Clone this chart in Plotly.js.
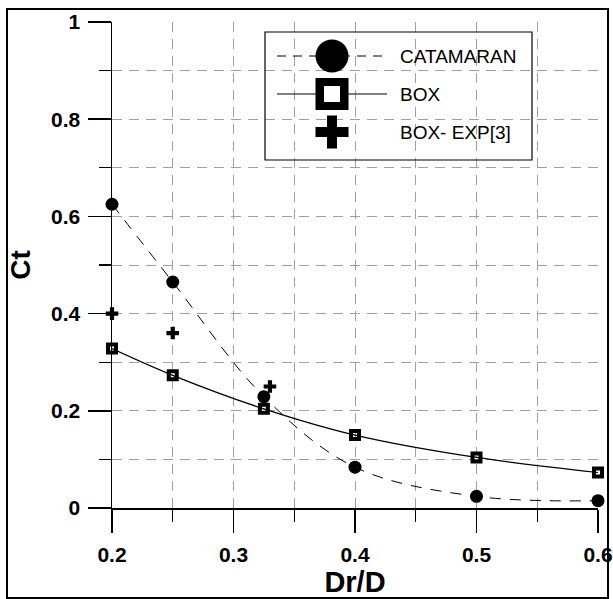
<!DOCTYPE html>
<html>
<head>
<meta charset="utf-8">
<script src="https://cdn.plot.ly/plotly-3.0.1.min.js"></script>
<style>html,body{margin:0;padding:0;background:#fff;}#chart{width:613px;height:599px;}</style>
</head>
<body>
<div id="chart"></div>
<script>
// ---- data ----
var drD = [0.2, 0.25, 0.325, 0.4, 0.5, 0.6];
var ctCatamaran = [0.625, 0.465, 0.229, 0.084, 0.024, 0.015];
var ctBox = [0.328, 0.273, 0.204, 0.150, 0.104, 0.073];
var drDExp = [0.2, 0.25, 0.33];
var ctBoxExp = [0.400, 0.360, 0.250];
var seriesNames = ["CATAMARAN", "BOX", "BOX- EXP[3]"];
var xTickVals = [0.2, 0.3, 0.4, 0.5, 0.6];
var yTickVals = [0, 0.2, 0.4, 0.6, 0.8, 1];

// ---- layout geometry (pixels) ----
var W = 613, H = 599;
var M = {l: 112, r: 15, t: 22, b: 91};
var PW = W - M.l - M.r, PH = H - M.t - M.b;
function PX(px) { return (px - M.l) / PW; }
function PY(py) { return (M.t + PH - py) / PH; }

var tickFont = {family: "Liberation Sans, Arial, sans-serif", size: 21, color: "#000", weight: "bold"};
var gridCol = "#a0a0a0";

var traces = [
  {x: drD, y: ctCatamaran, name: seriesNames[0], type: "scatter", mode: "lines+markers",
   line: {color: "#000", width: 1, dash: "11px,9px", shape: "spline", smoothing: 1},
   marker: {symbol: "circle", size: 13, color: "#000"}, cliponaxis: false},
  {x: drD, y: ctBox, name: seriesNames[1], type: "scatter", mode: "lines+markers",
   line: {color: "#000", width: 1.2, shape: "spline", smoothing: 1},
   marker: {symbol: "square-open", size: 8, color: "#000", line: {color: "#000", width: 4}}, cliponaxis: false},
  {x: drDExp, y: ctBoxExp, name: seriesNames[2], type: "scatter", mode: "markers",
   marker: {symbol: "cross", size: 10.5, color: "#000", line: {width: 0}}, cliponaxis: false}
];

// legend (drawn manually to reproduce the large symbols)
var legRow = [56, 94, 132];
var legSym = 332, legLine0 = 277, legLine1 = 387, legText = 398;
var shapes = [
  // outer frame
  {type: "rect", xref: "paper", yref: "paper", x0: PX(7), x1: PX(608), y0: PY(598), y1: PY(9),
   line: {color: "#000", width: 2}, fillcolor: "rgba(0,0,0,0)", layer: "above"},
  // legend box
  {type: "rect", xref: "paper", yref: "paper", x0: PX(265), x1: PX(532), y0: PY(160), y1: PY(32),
   line: {color: "#000", width: 1.2}, fillcolor: "rgba(0,0,0,0)", layer: "above"},
  // legend lines
  {type: "line", xref: "paper", yref: "paper", x0: PX(legLine0), x1: PX(legLine1), y0: PY(legRow[0]), y1: PY(legRow[0]),
   line: {color: "#000", width: 1, dash: "9px,7px"}, layer: "above"},
  {type: "line", xref: "paper", yref: "paper", x0: PX(legLine0), x1: PX(legLine1), y0: PY(legRow[1]), y1: PY(legRow[1]),
   line: {color: "#000", width: 1.2}, layer: "above"},
  // legend circle
  {type: "circle", xref: "paper", yref: "paper", x0: PX(legSym - 16.5), x1: PX(legSym + 16.5), y0: PY(legRow[0] + 16.5), y1: PY(legRow[0] - 16.5),
   line: {width: 0}, fillcolor: "#000", layer: "above"},
  // legend square (outer black, inner white)
  {type: "rect", xref: "paper", yref: "paper", x0: PX(legSym - 16.5), x1: PX(legSym + 16.5), y0: PY(legRow[1] + 16), y1: PY(legRow[1] - 16),
   line: {width: 0}, fillcolor: "#000", layer: "above"},
  {type: "rect", xref: "paper", yref: "paper", x0: PX(legSym - 8), x1: PX(legSym + 8), y0: PY(legRow[1] + 8), y1: PY(legRow[1] - 8),
   line: {width: 0}, fillcolor: "#fff", layer: "above"},
  // legend cross
  {type: "rect", xref: "paper", yref: "paper", x0: PX(legSym - 16.5), x1: PX(legSym + 16.5), y0: PY(legRow[2] + 5), y1: PY(legRow[2] - 5),
   line: {width: 0}, fillcolor: "#000", layer: "above"},
  {type: "rect", xref: "paper", yref: "paper", x0: PX(legSym - 5), x1: PX(legSym + 5), y0: PY(legRow[2] + 16.5), y1: PY(legRow[2] - 16.5),
   line: {width: 0}, fillcolor: "#000", layer: "above"}
];
var annotations = seriesNames.map(function (n, i) {
  return {text: n, xref: "paper", yref: "paper", x: PX(legText), y: PY(legRow[i]), xanchor: "left", yanchor: "middle",
          showarrow: false, font: {family: "Liberation Sans, Arial, sans-serif", size: 19, color: "#000"}};
});

var layout = {
  width: W, height: H,
  margin: M,
  paper_bgcolor: "#fff", plot_bgcolor: "#fff",
  showlegend: false,
  xaxis: {
    range: [0.2, 0.6], tickvals: xTickVals, ticktext: xTickVals.map(String),
    showline: true, linecolor: "#000", linewidth: 1.5, zeroline: false,
    ticks: "outside", ticklen: 23, tickwidth: 1.5, tickcolor: "#000",
    showgrid: true, gridcolor: gridCol, gridwidth: 1, griddash: "10px,7px",
    minor: {dtick: 0.05, tick0: 0.2, ticks: "outside", ticklen: 12, tickwidth: 1.2, tickcolor: "#000",
            showgrid: true, gridcolor: gridCol, gridwidth: 1, griddash: "10px,7px"},
    tickfont: tickFont, ticklabelstandoff: 4,
    title: {text: "Dr/D", font: {family: "Liberation Sans, Arial, sans-serif", size: 29, color: "#000", weight: "bold"}, standoff: 5},
    fixedrange: true
  },
  yaxis: {
    range: [0, 1], tickvals: yTickVals,
    showline: true, linecolor: "#000", linewidth: 1.5, zeroline: false,
    ticks: "outside", ticklen: 23, tickwidth: 1.5, tickcolor: "#000",
    showgrid: true, gridcolor: gridCol, gridwidth: 1, griddash: "10px,7px",
    minor: {dtick: 0.1, tick0: 0, ticks: "outside", ticklen: 12, tickwidth: 1.2, tickcolor: "#000",
            showgrid: true, gridcolor: gridCol, gridwidth: 1, griddash: "10px,7px"},
    tickfont: tickFont, ticklabelstandoff: 3,
    title: {text: "Ct", font: {family: "Liberation Sans, Arial, sans-serif", size: 28, color: "#000", weight: "bold"}, standoff: 12},
    fixedrange: true
  },
  shapes: shapes,
  annotations: annotations
};

Plotly.newPlot("chart", traces, layout, {displayModeBar: false, staticPlot: true});
</script>
</body>
</html>
